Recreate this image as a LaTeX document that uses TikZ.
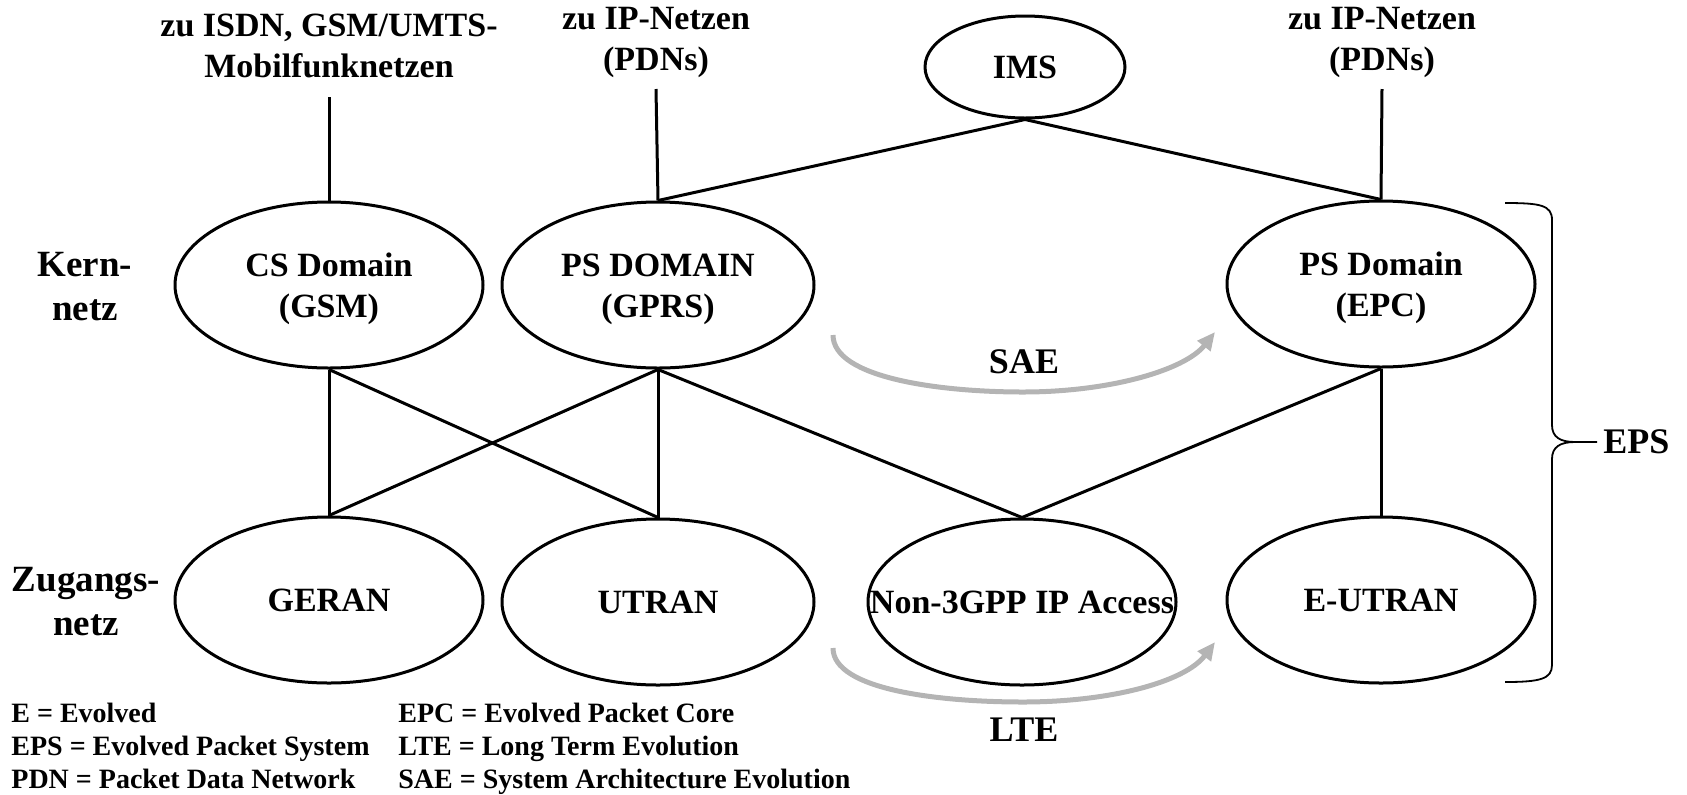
\documentclass[tikz,border=0pt]{standalone}
\usepackage{fontspec}
\setmainfont{Liberation Serif}
\usetikzlibrary{shapes.geometric,arrows.meta}
\definecolor{evogray}{RGB}{180,180,180}
\begin{document}
\begin{tikzpicture}[x=0.5pt,y=-0.5pt,
  net/.style={ellipse,draw,line width=1.5pt,inner sep=0pt,align=center,
    font=\fontsize{17}{20.5}\selectfont\bfseries},
  lbl/.style={align=center,font=\fontsize{17}{20.5}\selectfont\bfseries,inner sep=0pt},
  side/.style={align=center,font=\fontsize{18.5}{22}\selectfont\bfseries,inner sep=0pt},
  big/.style={font=\fontsize{18}{21}\selectfont\bfseries,inner sep=0pt},
  legend/.style={font=\fontsize{14}{16.5}\selectfont\bfseries,inner sep=0pt,anchor=base west},
  link/.style={line width=1.5pt},
  evo/.style={line width=2.5pt,draw=evogray,-{Triangle[length=9pt,width=8pt,fill=evogray]}},
  bracestyle/.style={line width=0.9pt},
]
\useasboundingbox (0,0) rectangle (1687,794);

% top labels
\node[lbl] (tISDN) at (329,46) {zu ISDN, GSM/UMTS-\\Mobilfunknetzen};
\node[lbl] (tIP1) at (656,42) {zu IP-Netzen\\(PDNs)};
\node[lbl] (tIP2) at (1382,42) {zu IP-Netzen\\(PDNs)};
\coordinate (cISDN) at (329,97);
\coordinate (cIP1) at (656,89);
\coordinate (cIP2) at (1382,89);

% core
\node[net,minimum width=100pt,minimum height=51pt] (IMS) at (1025,67) {IMS};
\node[net,minimum width=154pt,minimum height=83pt] (CS) at (329,285) {};
\node[lbl] (CStext) at ([yshift=-2pt]CS.center) {CS Domain\\(GSM)};
\node[net,minimum width=156pt,minimum height=83pt] (PS) at (658,285) {};
\node[lbl] (PStext) at ([yshift=-2pt]PS.center) {PS DOMAIN\\(GPRS)};
\node[net,minimum width=154pt,minimum height=83pt] (EPC) at (1381,284) {};
\node[lbl] (EPCtext) at ([yshift=-2pt]EPC.center) {PS Domain\\(EPC)};

% access
\node[net,minimum width=154pt,minimum height=83pt] (GERAN) at (329,600) {GERAN};
\node[net,minimum width=156pt,minimum height=83pt] (UTRAN) at (658,602) {UTRAN};
\node[net,minimum width=154pt,minimum height=83pt] (N3) at (1022,602) {};
\node[lbl] (N3text) at (N3.center) {Non-3GPP IP Access};
\node[net,minimum width=154pt,minimum height=83pt] (EUTRAN) at (1381,600) {E-UTRAN};

% side labels
\node[side] (kern) at (85,287) {Kern-\\netz};
\node[side] (zug) at (86,602) {Zugangs-\\netz};

% connectors
\draw[link] (cISDN) -- (CS.north);
\draw[link] (cIP1) -- (PS.north);
\draw[link] (cIP2) -- (EPC.north);
\draw[link] (IMS.south) -- (PS.north);
\draw[link] (IMS.south) -- (EPC.north);
\draw[link] (CS.south) -- (GERAN.north);
\draw[link] (CS.south) -- (UTRAN.north);
\draw[link] (PS.south) -- (GERAN.north);
\draw[link] (PS.south) -- (UTRAN.north);
\draw[link] (PS.south) -- (N3.north);
\draw[link] (EPC.south) -- (N3.north);
\draw[link] (EPC.south) -- (EUTRAN.north);

% evolution arrows
\coordinate (saeS) at (833,335);
\coordinate (saeM) at (1023,392);
\coordinate (saeE) at (1215,332);
\draw[evo] (saeS) .. controls (833,378) and (940,392) .. (saeM)
  .. controls (1110,392) and (1185,370) .. (saeE);
\node[big] (SAE) at (1024,362) {SAE};

\coordinate (lteS) at (833,648);
\coordinate (lteM) at (1023,702);
\coordinate (lteE) at (1215,642);
\draw[evo] (lteS) .. controls (833,690) and (940,702) .. (lteM)
  .. controls (1110,702) and (1185,682) .. (lteE);
\node[big] (LTE) at (1024,730) {LTE};

% brace
\coordinate (bTop) at (1505,203);
\coordinate (bTip) at (1597,442);
\coordinate (bBot) at (1505,682);
\draw[bracestyle] (bTop) .. controls (1540,203) and (1552,205) .. (1552,220)
  -- (1552,425) .. controls (1552,437) and (1560,442) .. (1575,442) -- (bTip);
\draw[bracestyle] (1575,442) .. controls (1560,442) and (1552,447) .. (1552,459)
  -- (1552,665) .. controls (1552,679) and (1540,682) .. (bBot);
\node[big,anchor=west] (EPS) at (1603,442) {EPS};

% legend
\node[legend] (leg1) at (11,722) {E = Evolved};
\node[legend] (leg2) at (11,755) {EPS = Evolved Packet System};
\node[legend] (leg3) at (11,788) {PDN = Packet Data Network};
\node[legend] (leg4) at (398,722) {EPC = Evolved Packet Core};
\node[legend] (leg5) at (398,755) {LTE = Long Term Evolution};
\node[legend] (leg6) at (398,788) {SAE = System Architecture Evolution};
\end{tikzpicture}
\end{document}
